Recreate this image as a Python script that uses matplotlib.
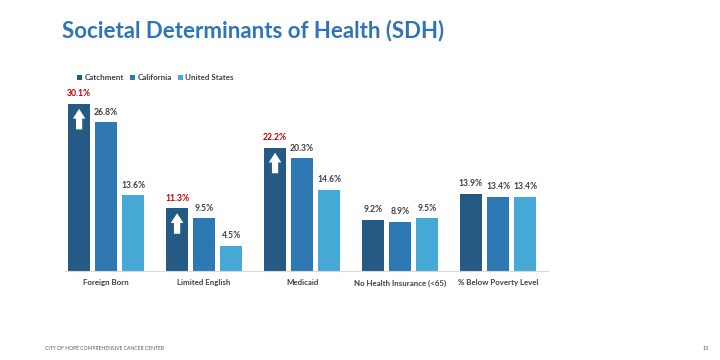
import matplotlib
matplotlib.use("Agg")
import matplotlib.pyplot as plt
import numpy as np

categories = ["Foreign Born", "Limited English", "Medicaid",
              "No Health Insurance (<65)", "% Below Poverty Level"]
series_names = ["Catchment", "California", "United States"]
catchment = [30.1, 11.3, 22.2, 9.2, 13.9]
california = [26.8, 9.5, 20.3, 8.9, 13.4]
united_states = [13.6, 4.5, 14.6, 9.5, 13.4]
catchment_higher = [True, True, True, False, False]

colors = ["#255A85", "#2E78B4", "#47AAD6"]
red = "#C00000"
gray = "#404040"

plt.rcParams['font.family'] = ['Lato', 'DejaVu Sans']

fig = plt.figure(figsize=(7.2, 3.6), dpi=100)
fig.patch.set_facecolor("white")

ax = fig.add_axes([65/720, 1-271/360, (548-65)/720, (271-90)/360])

x = np.arange(len(categories))
step = 0.276
width = 0.228
data = [catchment, california, united_states]
for i, (vals, name, c) in enumerate(zip(data, series_names, colors)):
    pos = x + (i - 1) * step
    ax.bar(pos, vals, width=width, color=c, label=name, zorder=2)
    for j, (p, v) in enumerate(zip(pos, vals)):
        col = red if (i == 0 and catchment_higher[j]) else gray
        ax.text(p, v + 1.0, f"{v:.1f}%", ha="center", va="bottom",
                fontsize=6.2, fontweight="bold", color=col)
        if i == 0 and catchment_higher[j]:
            ax.annotate("", xy=(p, v - 0.9), xytext=(p, v - 4.6),
                        arrowprops=dict(arrowstyle="simple,head_length=0.5,head_width=0.65,tail_width=0.32",
                                        color="white", lw=0, mutation_scale=14,
                                        shrinkA=0, shrinkB=0))

ax.set_xlim(-0.42, 4.51)
ax.set_ylim(0, 32.6)
ax.set_xticks(x)
ax.set_xticklabels(categories, fontsize=5.7, fontweight="bold", color=gray)
ax.tick_params(axis="x", length=0, pad=6)
ax.set_yticks([])
for s in ["top", "right", "left"]:
    ax.spines[s].set_visible(False)
ax.spines["bottom"].set_color("#D9D9D9")
ax.spines["bottom"].set_linewidth(0.8)

leg = fig.legend(loc="upper left", bbox_to_anchor=(74/720, 1-71/360), ncol=3,
                 frameon=False, fontsize=5.8, handlelength=0.6, handleheight=0.6,
                 handletextpad=0.3, columnspacing=0.8, borderaxespad=0)
for t in leg.get_texts():
    t.set_color(gray)
    t.set_fontweight("bold")

fig.text(62/720, 1-31/360, "Societal Determinants of Health (SDH)",
         fontsize=16, fontweight="bold", color="#2E75B6", ha="left", va="center")
fig.text(45/720, 1-349/360, "CITY OF HOPE COMPREHENSIVE CANCER CENTER",
         fontsize=3.6, color="#595959", ha="left", va="center")
fig.text(706/720, 1-349/360, "13", fontsize=3.8, color="#595959",
         ha="center", va="center")

fig.savefig("out.png", dpi=100, facecolor="white")
